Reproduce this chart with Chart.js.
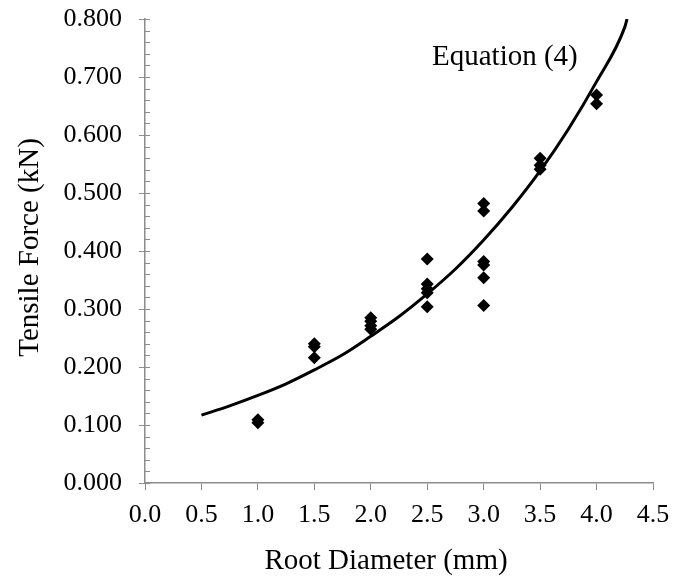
<!DOCTYPE html>
<html>
<head>
<meta charset="utf-8">
<script src="https://cdn.jsdelivr.net/npm/chart.js@4/dist/chart.umd.min.js"></script>
<style>
html,body{margin:0;padding:0;background:#fff;}
#wrap{width:687px;height:579px;position:relative;}
</style>
</head>
<body>
<div id="wrap"><canvas id="c" width="687" height="579"></canvas></div>
<script>
// Measured points: root diameter (mm) and tensile force (kN)
const diameters = [1.0, 1.0, 1.5, 1.5, 1.5, 2.0, 2.0, 2.0, 2.0, 2.5, 2.5, 2.5, 2.5, 2.5, 3.0, 3.0, 3.0, 3.0, 3.0, 3.0, 3.5, 3.5, 3.5, 4.0, 4.0];
const forces    = [0.104, 0.109, 0.240, 0.235, 0.216, 0.285, 0.279, 0.271, 0.265, 0.386, 0.343, 0.335, 0.328, 0.304, 0.482, 0.469, 0.382, 0.376, 0.354, 0.306, 0.560, 0.548, 0.541, 0.669, 0.654];
// Fitted curve (Equation 4)
const curveX = [0.5, 0.75, 1.0, 1.25, 1.5, 1.75, 2.0, 2.25, 2.5, 2.75, 3.0, 3.25, 3.5, 3.75, 4.0, 4.25, 4.27];
const curveY = [0.117, 0.133, 0.151, 0.171, 0.195, 0.221, 0.253, 0.287, 0.326, 0.369, 0.419, 0.475, 0.538, 0.610, 0.692, 0.786, 0.800];
const xTicks = [0.0, 0.5, 1.0, 1.5, 2.0, 2.5, 3.0, 3.5, 4.0, 4.5];
const yTicks = [0.0, 0.1, 0.2, 0.3, 0.4, 0.5, 0.6, 0.7, 0.8];
const xTitle = 'Root Diameter (mm)';
const yTitle = 'Tensile Force (kN)';
const annotationText = 'Equation (4)';

const FONT = "'Liberation Serif', 'Times New Roman', serif";
const AXIS = '#8c8c8c';

const scatterData = diameters.map((d, i) => ({x: d, y: forces[i]}));
const curveData = curveX.map((d, i) => ({x: d, y: curveY[i]}));

const extras = {
  id: 'extras',
  afterDraw(chart) {
    const ctx = chart.ctx;
    const xs = chart.scales.x, ys = chart.scales.y;
    const area = chart.chartArea;
    ctx.save();
    // minor ticks inside on the y axis
    ctx.strokeStyle = AXIS;
    ctx.lineWidth = 1;
    const x0 = xs.left;
    for (let v = 0; v <= 0.8001; v += 0.02) {
      const py = Math.round(ys.getPixelForValue(v)) + 0.5;
      ctx.beginPath();
      ctx.moveTo(x0, py);
      ctx.lineTo(x0 + 5, py);
      ctx.stroke();
    }
    ctx.fillStyle = '#000';
    ctx.font = "29px " + FONT;
    // annotation
    ctx.textAlign = 'left';
    ctx.textBaseline = 'alphabetic';
    ctx.fillText(annotationText, area.left + 287, area.top + 46);
    // x title
    ctx.textAlign = 'center';
    ctx.textBaseline = 'middle';
    ctx.fillText(xTitle, area.left + 241, 561);
    // y title
    ctx.translate(30, area.top + 228.5);
    ctx.rotate(-Math.PI / 2);
    ctx.fillText(yTitle, 0, 0);
    ctx.restore();
  }
};

new Chart(document.getElementById('c'), {
  type: 'scatter',
  data: {
    datasets: [
      {
        type: 'line',
        data: curveData,
        borderColor: '#000',
        borderWidth: 3,
        pointRadius: 0,
        fill: false,
        cubicInterpolationMode: 'monotone',
        order: 2
      },
      {
        data: scatterData,
        pointStyle: 'rectRot',
        pointRadius: 6.5,
        backgroundColor: '#000',
        borderColor: '#000',
        borderWidth: 0,
        order: 1
      }
    ]
  },
  options: {
    responsive: false,
    animation: false,
    plugins: { legend: {display: false}, tooltip: {enabled: false} },
    layout: { padding: { top: 19, right: 34, left: 46.5, bottom: 37.8 } },
    scales: {
      x: {
        type: 'linear',
        min: 0, max: 4.5,
        afterBuildTicks: s => { s.ticks = xTicks.map(v => ({value: v})); },
        ticks: {
          color: '#000', font: {family: FONT, size: 26}, padding: 10,
          callback: v => Number(v).toFixed(1), maxRotation: 0, autoSkip: false
        },
        grid: { drawOnChartArea: false, drawTicks: true, tickLength: 7, color: AXIS, lineWidth: 1 },
        border: { color: AXIS, width: 1.5 }
      },
      y: {
        type: 'linear',
        min: 0, max: 0.8,
        afterBuildTicks: s => { s.ticks = yTicks.map(v => ({value: v})); },
        afterFit: s => { s.paddingTop = 0; s.paddingBottom = 0; },
        ticks: {
          color: '#000', font: {family: FONT, size: 26}, padding: 17,
          callback: v => Number(v).toFixed(3), autoSkip: false
        },
        grid: { drawOnChartArea: false, drawTicks: true, tickLength: 6, color: AXIS, lineWidth: 1 },
        border: { color: AXIS, width: 1.5 }
      }
    }
  },
  plugins: [extras]
});
</script>
</body>
</html>
